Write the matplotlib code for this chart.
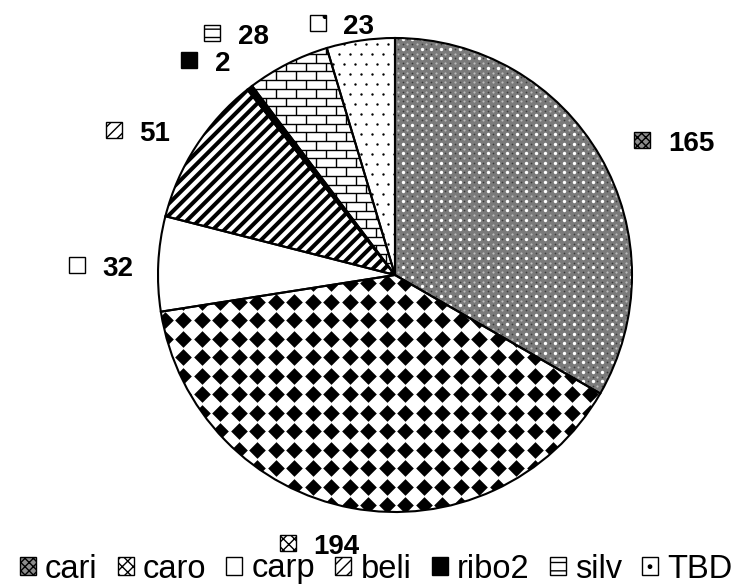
import numpy as np
import matplotlib
matplotlib.use("Agg")
import matplotlib.pyplot as plt
from matplotlib.patches import Rectangle, Patch
from matplotlib.collections import LineCollection
from matplotlib import font_manager

# data
categories = ["cari", "caro", "carp", "beli", "ribo2", "silv", "TBD"]
counts = [165, 194, 32, 51, 2, 28, 23]

# layout (pixels of the 737x588 picture)
W, H = 737, 588
CX, CY, R = 395, 275, 237          # pie centre and radius
u = 1.0 / R                        # one pixel in data units
# left edge / vertical middle of each value label
label_px = [(668, 141), (313, 544), (102, 266), (139, 131), (215, 61), (238, 34), (343, 24)]

# slice faces and small-icon hatches
faces = ["#7a7a7a", "white", "white", "white", "black", "white", "white"]
icon_faces = ["#8c8c8c", "white", "white", "white", "black", "white", "white"]
icon_hatch = ["xxxx", "xxx", "", "///", "", "--", "."]

names = {f.name for f in font_manager.fontManager.ttflist}
LEG_FONT = "Liberation Sans Narrow" if "Liberation Sans Narrow" in names else "Liberation Sans"
LEG_SIZE = 26 if LEG_FONT == "Liberation Sans Narrow" else 23.5

plt.rcParams["hatch.linewidth"] = 1.0


def to_data(x, y):
    return (x - CX) * u, (CY - y) * u


def grid(step_x, step_y, stagger=False):
    xs = np.arange(-1.05, 1.05, step_x * u)
    ys = np.arange(-1.05, 1.05, step_y * u)
    gx, gy = np.meshgrid(xs, ys)
    if stagger:
        gx[1::2] += step_x * u / 2
    return gx.ravel(), gy.ravel()


def texture(ax, kind, wedge):
    """Draw a fill pattern clipped to one wedge."""
    arts = []
    if kind == "cari":
        gx, gy = grid(9.5, 9.5)
        arts.append(ax.scatter(gx, gy, s=6, c="white", linewidths=0, zorder=3))
        arts.append(ax.scatter(gx + 4.75 * u, gy + 4.75 * u, s=2.5, c="#bcbcbc", linewidths=0, zorder=3))
        arts.append(ax.scatter(gx + 4.75 * u, gy, s=1.5, c="#3c3c3c", linewidths=0, zorder=3))
        arts.append(ax.scatter(gx, gy + 4.75 * u, s=1.5, c="#3c3c3c", linewidths=0, zorder=3))
    elif kind == "caro":
        gx, gy = grid(18.5, 18.5)
        arts.append(ax.scatter(gx, gy, s=72, marker="D", c="black", linewidths=0, zorder=3))
    elif kind == "beli":
        cs = np.arange(-2.2, 2.2, 11.7 * u)
        segs = [[(-1.1, -1.1 + c), (1.1, 1.1 + c)] for c in cs]
        lc = LineCollection(segs, colors="black", linewidths=2.9, zorder=3)
        ax.add_collection(lc)
        arts.append(lc)
    elif kind == "silv":
        ys = np.arange(-1.05, 1.05, 8.7 * u)
        segs = [[(-1.1, y), (1.1, y)] for y in ys]
        for i in range(len(ys) - 1):
            for x in np.arange(-1.05 + (i % 2) * 10 * u, 1.05, 20 * u):
                segs.append([(x, ys[i]), (x, ys[i + 1])])
        lc = LineCollection(segs, colors="black", linewidths=1.0, zorder=3)
        ax.add_collection(lc)
        arts.append(lc)
    elif kind == "TBD":
        gx, gy = grid(11, 10, stagger=True)
        arts.append(ax.scatter(gx, gy, s=3, c="black", linewidths=0, zorder=3))
    for a in arts:
        a.set_clip_path(wedge)


fig = plt.figure(figsize=(W / 100, H / 100), dpi=100)
ax = fig.add_axes([0, 0, 1, 1])

wedges, _ = ax.pie(counts, startangle=90, counterclock=False, colors=faces,
                   wedgeprops=dict(linewidth=0))
for name, w in zip(categories, wedges):
    texture(ax, name, w)

# slice outlines on top of the patterns
ax.pie(counts, startangle=90, counterclock=False,
       wedgeprops=dict(fill=False, edgecolor="black", linewidth=1.5, zorder=5))

# value labels with a small key box
for i, v in enumerate(counts):
    xl, yc = label_px[i]
    tx, ty = to_data(xl, yc + 10)
    ax.text(tx, ty, str(v), ha="left", va="baseline", fontsize=20,
            fontweight="bold", family="Liberation Sans", zorder=6)
    bx, by = to_data(xl - 25.5, yc - 1)
    ax.add_patch(Rectangle((bx - 8 * u, by - 8 * u), 16 * u, 16 * u,
                           facecolor=icon_faces[i], edgecolor="black",
                           hatch=icon_hatch[i], linewidth=1.0, zorder=6))

ax.set_xlim(-CX * u, (W - CX) * u)
ax.set_ylim(-(H - CY) * u, CY * u)
ax.axis("off")

handles = [Patch(facecolor=icon_faces[i], edgecolor="black", hatch=icon_hatch[i], linewidth=1.0)
           for i in range(len(categories))]
fig.legend(handles, categories, loc="center", bbox_to_anchor=(376 / W, 19 / H), ncol=7,
           frameon=False, prop=dict(family=LEG_FONT, size=LEG_SIZE),
           handlelength=0.49, handleheight=0.49, handletextpad=0.28,
           columnspacing=0.62, borderpad=0, borderaxespad=0)

fig.savefig("out.png", dpi=100)
